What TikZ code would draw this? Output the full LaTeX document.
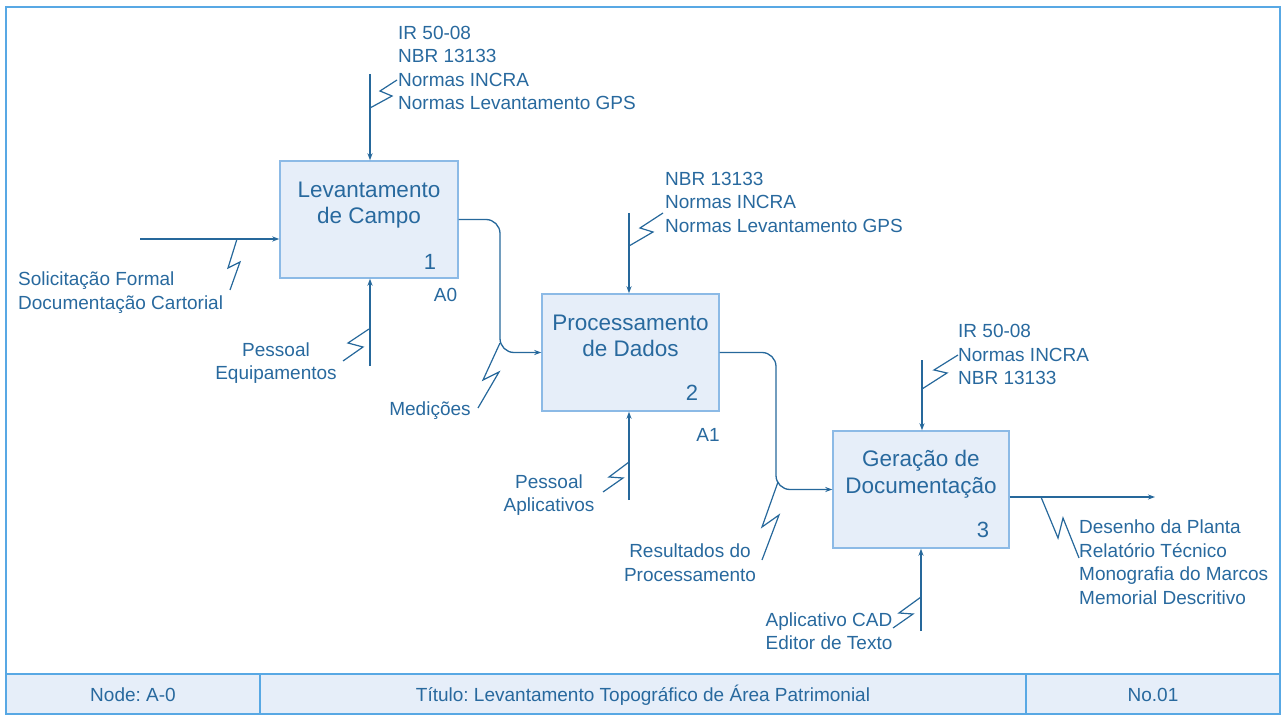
\documentclass[tikz,border=0pt]{standalone}
\usepackage{fontspec}
\setmainfont{Liberation Sans}
\usetikzlibrary{arrows.meta,calc}
\frenchspacing

\definecolor{ink}{RGB}{40,105,158}
\definecolor{wire}{RGB}{38,104,155}
\definecolor{boxfill}{RGB}{230,238,249}
\definecolor{boxline}{RGB}{140,186,230}
\definecolor{frameline}{RGB}{88,168,228}

% multi-line labels are placed by the baseline of their last line
\tikzset{
  base/.style={font=\fontsize{19bp}{23.5bp}\selectfont, text=ink, inner sep=0pt},
  lbl/.style={base, align=left, anchor=base west},
  clbl/.style={base, align=center, anchor=base},
  act/.style={draw=boxline, fill=boxfill, line width=1.4bp,
              minimum width=#1, minimum height=117bp, inner sep=0pt},
  acttitle/.style={font=\fontsize{22.5bp}{26.5bp}\selectfont, text=ink,
                   inner sep=0pt, align=center, anchor=base},
  actnum/.style={font=\fontsize{22bp}{26bp}\selectfont, text=ink, inner sep=0pt, anchor=base},
  flow/.style={draw=wire, line width=1.3bp, -{Stealth[length=7bp,width=5bp]}},
  bolt/.style={draw=wire, line width=1.2bp, line join=miter},
  cell/.style={draw=frameline, fill=boxfill, line width=1.4bp}
}

\begin{document}
\begin{tikzpicture}[x=1bp,y=-1bp]
\useasboundingbox (0,0) rectangle (1282,716);

% outer frame and title block
\draw[frameline, line width=1.6bp] (6,7) rectangle (1280,714);
\draw[cell] (6,674) rectangle (260,714);
\draw[cell] (260,674) rectangle (1026,714);
\draw[cell] (1026,674) rectangle (1280,714);
\node[clbl] (tnode) at (133,701) {Node: A-0};
\node[clbl] (ttitle) at (643,701) {Título: Levantamento Topográfico de Área Patrimonial};
\node[clbl] (tno) at (1153,701) {No.01};

% activity boxes
\node[act=178bp] (b1) at (369,219.5) {};
\node[act=177bp] (b2) at (630.5,352.5) {};
\node[act=176bp] (b3) at (921,489.5) {};

\node[acttitle] (b1t) at (369,224) {Levantamento\\de Campo};
\node[acttitle] (b2t) at (630.5,356.5) {Processamento\\de Dados};
\node[acttitle] (b3t) at (921,493) {Geração de\\Documentação};

\node[actnum] (b1n) at (430,269) {1};
\node[actnum] (b2n) at (692,400) {2};
\node[actnum] (b3n) at (983,537) {3};

\node[clbl] (b1a) at (445.5,301.5) {A0};
\node[clbl] (b2a) at (708,441) {A1};

% box 1 : input, control, mechanism
\coordinate (in1) at (140,239);
\draw[flow] (in1) -- (in1 -| b1.west);
\draw[bolt] (237,239) -- (228,268) -- (240,262) -- (230,290);
\node[lbl] (in1t) at (18,309) {Solicitação Formal\\Documentação Cartorial};

\coordinate (c1) at (370,74);
\draw[flow] (c1) -- (c1 |- b1.north);
\draw[bolt] (370,108) -- (392,96) -- (380,91) -- (397,80);
\node[lbl] (c1t) at (398,110) {IR 50-08\\NBR 13133\\Normas INCRA\\Normas Levantamento GPS};

\coordinate (m1) at (370,366);
\draw[flow] (m1) -- (m1 |- b1.south);
\draw[bolt] (369,329) -- (348,343) -- (363,347) -- (343,361);
\node[clbl] (m1t) at (276,379.5) {Pessoal\\Equipamentos};

% box 1 -> box 2
\draw[flow, rounded corners=14bp] (b1.east) -| ($(b1.east)!0.5!(b2.west)$) |- (b2.west);
\draw[bolt] (500,343) -- (483,380) -- (499,372) -- (478,408);
\node[clbl] (o1t) at (430,415) {Medições};

% box 2 : control, mechanism
\coordinate (c2) at (629,213);
\draw[flow] (c2) -- (c2 |- b2.north);
\draw[bolt] (629,246) -- (653,232) -- (640,228) -- (663,213);
\node[lbl] (c2t) at (665,232.5) {NBR 13133\\Normas INCRA\\Normas Levantamento GPS};

\coordinate (m2) at (629,500);
\draw[flow] (m2) -- (m2 |- b2.south);
\draw[bolt] (629,462) -- (609,477) -- (623,478) -- (603,492);
\node[clbl] (m2t) at (549,511.5) {Pessoal\\Aplicativos};

% box 2 -> box 3
\draw[flow, rounded corners=14bp] (b2.east) -| ($(b2.east)!0.5!(b3.west)$) |- (b3.west);
\draw[bolt] (778,482) -- (762,527) -- (779,515) -- (762,560);
\node[clbl] (o2t) at (690,581) {Resultados do\\Processamento};

% box 3 : control, mechanism, output
\coordinate (c3) at (922,360);
\draw[flow] (c3) -- (c3 |- b3.north);
\draw[bolt] (922,389) -- (947,373) -- (934,370) -- (958,355);
\node[lbl] (c3t) at (958,384.5) {IR 50-08\\Normas INCRA\\NBR 13133};

\coordinate (m3) at (921,631);
\draw[flow] (m3) -- (m3 |- b3.south);
\draw[bolt] (921,597) -- (899,613) -- (913,614) -- (893,628);
\node[clbl] (m3t) at (829,649.5) {Aplicativo CAD\\Editor de Texto};

\coordinate (o3) at (1155,497);
\draw[flow] (o3 -| b3.east) -- (o3);
\draw[bolt] (1041,497) -- (1058,538) -- (1063,518) -- (1079,558);
\node[lbl] (o3t) at (1079,604) {Desenho da Planta\\Relatório Técnico\\Monografia do Marcos\\Memorial Descritivo};

\end{tikzpicture}
\end{document}
